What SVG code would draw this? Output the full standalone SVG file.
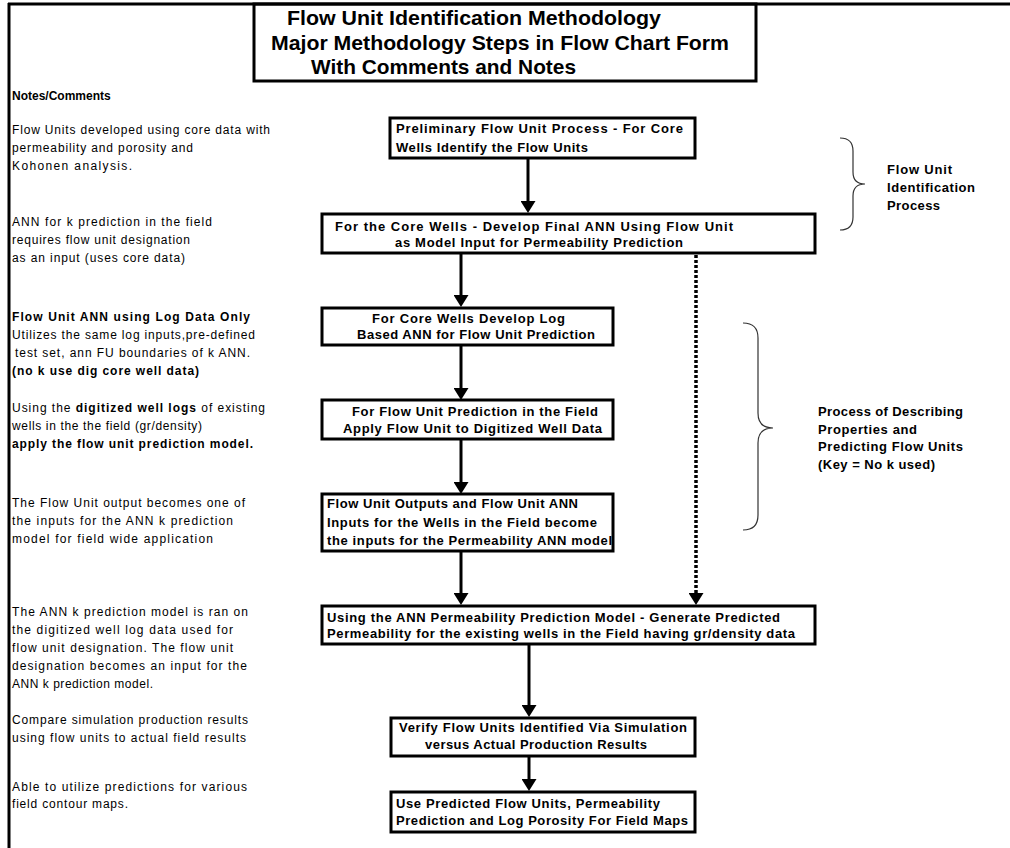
<svg xmlns="http://www.w3.org/2000/svg" width="1010" height="848" viewBox="0 0 1010 848">
<style>
  .frame{fill:none;stroke:#000;stroke-width:3}
  .box{fill:#fff;stroke:#000;stroke-width:3}
  .bt{font-family:"Liberation Sans",Arial,sans-serif;font-size:13px;font-weight:bold;fill:#000}
  .title{font-family:"Liberation Sans",Arial,sans-serif;font-size:21px;font-weight:bold;fill:#000}
  .note{font-family:"Liberation Sans",Arial,sans-serif;font-size:12px;fill:#000}
  .nb{font-weight:bold}
  .side{font-family:"Liberation Sans",Arial,sans-serif;font-size:13px;font-weight:bold;fill:#000}
  .conn{fill:none;stroke:#000;stroke-width:3}
  .dot{fill:none;stroke:#000;stroke-width:3.5;stroke-dasharray:3 2}
  .brace{fill:none;stroke:#333;stroke-width:1.2}
</style>
<defs>
  <marker id="ah" markerUnits="userSpaceOnUse" markerWidth="12" markerHeight="15" refX="2" refY="7.5" orient="auto">
    <path d="M0,0 L12,7.5 L0,15 Z" fill="#000"/>
  </marker>
</defs>

<g id="frame">
  <line class="frame" x1="8" y1="4" x2="1010" y2="4"/>
  <line class="frame" x1="9" y1="3" x2="9" y2="848"/>
</g>

<g id="title">
  <rect class="frame" x="254" y="4" width="502" height="77"/>
  <text class="title" x="287" y="25" textLength="374" lengthAdjust="spacingAndGlyphs">Flow Unit Identification Methodology</text>
  <text class="title" x="271" y="50" textLength="458" lengthAdjust="spacingAndGlyphs">Major Methodology Steps in Flow Chart Form</text>
  <text class="title" x="311" y="74" textLength="265" lengthAdjust="spacingAndGlyphs">With Comments and Notes</text>
</g>

<g id="notes">
  <text class="note nb" x="12" y="100" font-size="11">Notes/Comments</text>
  <text class="note" x="12" y="134" textLength="258" lengthAdjust="spacing">Flow Units developed using core data with</text>
  <text class="note" x="12" y="152" textLength="181" lengthAdjust="spacing">permeability and porosity and</text>
  <text class="note" x="12" y="170" textLength="120" lengthAdjust="spacing">Kohonen analysis.</text>
  <text class="note" x="12" y="226" textLength="200" lengthAdjust="spacing">ANN for k prediction in the field</text>
  <text class="note" x="12" y="244" textLength="178" lengthAdjust="spacing">requires flow unit designation</text>
  <text class="note" x="12" y="262" textLength="173" lengthAdjust="spacing">as an input (uses core data)</text>
  <text class="note nb" x="12" y="321" textLength="238" lengthAdjust="spacing">Flow Unit ANN using Log Data Only</text>
  <text class="note" x="12" y="339" textLength="243" lengthAdjust="spacing">Utilizes the same log inputs,pre-defined</text>
  <text class="note" x="15" y="357" textLength="235" lengthAdjust="spacing">test set, ann FU boundaries of k ANN.</text>
  <text class="note nb" x="12" y="375" textLength="187" lengthAdjust="spacing">(no k use dig core well data)</text>
  <text class="note" x="12" y="412" textLength="253" lengthAdjust="spacing">Using the <tspan class="nb">digitized well logs</tspan> of existing</text>
  <text class="note" x="12" y="430" textLength="190" lengthAdjust="spacing">wells in the the field (gr/density)</text>
  <text class="note nb" x="12" y="448" textLength="241" lengthAdjust="spacing">apply the flow unit prediction model.</text>
  <text class="note" x="12" y="507" textLength="233" lengthAdjust="spacing">The Flow Unit output becomes one of</text>
  <text class="note" x="12" y="525" textLength="221" lengthAdjust="spacing">the inputs for the ANN k prediction</text>
  <text class="note" x="12" y="543" textLength="201" lengthAdjust="spacing">model for field wide application</text>
  <text class="note" x="12" y="616" textLength="236" lengthAdjust="spacing">The ANN k prediction model is ran on</text>
  <text class="note" x="12" y="634" textLength="221" lengthAdjust="spacing">the digitized well log data used for</text>
  <text class="note" x="12" y="652" textLength="221" lengthAdjust="spacing">flow unit designation. The flow unit</text>
  <text class="note" x="12" y="670" textLength="235" lengthAdjust="spacing">designation becomes an input for the</text>
  <text class="note" x="12" y="688" textLength="141" lengthAdjust="spacing">ANN k prediction model.</text>
  <text class="note" x="12" y="724" textLength="236" lengthAdjust="spacing">Compare simulation production results</text>
  <text class="note" x="12" y="742" textLength="234" lengthAdjust="spacing">using flow units to actual field results</text>
  <text class="note" x="12" y="791" textLength="235" lengthAdjust="spacing">Able to utilize predictions for various</text>
  <text class="note" x="12" y="808" textLength="116" lengthAdjust="spacing">field contour maps.</text>
</g>

<g id="connectors">
  <line class="conn" x1="528" y1="158" x2="528" y2="203" marker-end="url(#ah)"/>
  <line class="conn" x1="461" y1="253" x2="461" y2="297" marker-end="url(#ah)"/>
  <line class="conn" x1="461" y1="345" x2="461" y2="390" marker-end="url(#ah)"/>
  <line class="conn" x1="461" y1="439" x2="461" y2="484" marker-end="url(#ah)"/>
  <line class="conn" x1="461" y1="551" x2="461" y2="595" marker-end="url(#ah)"/>
  <line class="dot" x1="696" y1="255" x2="696" y2="595" marker-end="url(#ah)"/>
  <line class="conn" x1="529" y1="644" x2="529" y2="707" marker-end="url(#ah)"/>
  <line class="conn" x1="529" y1="756" x2="529" y2="781" marker-end="url(#ah)"/>
</g>

<g id="step1">
  <rect class="box" x="390" y="118" width="305" height="40"/>
  <text class="bt" x="396" y="133" textLength="287" lengthAdjust="spacing">Preliminary Flow Unit Process - For Core</text>
  <text class="bt" x="396" y="151.5" textLength="192" lengthAdjust="spacing">Wells Identify the Flow Units</text>
</g>
<g id="step2">
  <rect class="box" x="322" y="214" width="493" height="39"/>
  <text class="bt" x="335" y="231" textLength="398" lengthAdjust="spacing">For the Core Wells - Develop Final ANN Using Flow Unit</text>
  <text class="bt" x="395" y="247" textLength="288" lengthAdjust="spacing">as Model Input for Permeability Prediction</text>
</g>
<g id="step3">
  <rect class="box" x="322" y="308" width="291" height="37"/>
  <text class="bt" x="372" y="323" textLength="193" lengthAdjust="spacing">For Core Wells Develop Log</text>
  <text class="bt" x="357" y="339" textLength="238" lengthAdjust="spacing">Based ANN for Flow Unit Prediction</text>
</g>
<g id="step4">
  <rect class="box" x="322" y="400" width="291" height="39"/>
  <text class="bt" x="352" y="416" textLength="246" lengthAdjust="spacing">For Flow Unit Prediction in the Field</text>
  <text class="bt" x="343" y="433" textLength="259" lengthAdjust="spacing">Apply Flow Unit to Digitized Well Data</text>
</g>
<g id="step5">
  <rect class="box" x="322" y="494" width="291" height="57"/>
  <text class="bt" x="327" y="508" textLength="251" lengthAdjust="spacing">Flow Unit Outputs and Flow Unit ANN</text>
  <text class="bt" x="327" y="526.5" textLength="270" lengthAdjust="spacing">Inputs for the Wells in the Field become</text>
  <text class="bt" x="327" y="545" textLength="285" lengthAdjust="spacing">the inputs for the Permeability ANN model</text>
</g>
<g id="step6">
  <rect class="box" x="322" y="606" width="493" height="38"/>
  <text class="bt" x="327" y="622" textLength="453" lengthAdjust="spacing">Using the ANN Permeability Prediction Model - Generate Predicted</text>
  <text class="bt" x="327" y="638" textLength="468" lengthAdjust="spacing">Permeability for the existing wells in the Field having gr/density data</text>
</g>
<g id="step7">
  <rect class="box" x="391" y="718" width="304" height="38"/>
  <text class="bt" x="399" y="732" textLength="288" lengthAdjust="spacing">Verify Flow Units Identified Via Simulation</text>
  <text class="bt" x="425" y="749" textLength="222" lengthAdjust="spacing">versus Actual Production Results</text>
</g>
<g id="step8">
  <rect class="box" x="391" y="792" width="304" height="40"/>
  <text class="bt" x="396" y="807.5" textLength="264" lengthAdjust="spacing">Use Predicted Flow Units, Permeability</text>
  <text class="bt" x="396" y="825" textLength="292" lengthAdjust="spacing">Prediction and Log Porosity For Field Maps</text>
</g>

<g id="brace1">
  <path class="brace" d="M840,138 Q853,138 853,151 L853,172 Q853,184 865,184 Q853,184 853,196 L853,217 Q853,230 840,230"/>
  <text class="side" x="887" y="173.5" textLength="65" lengthAdjust="spacing">Flow Unit</text>
  <text class="side" x="887" y="191.5" textLength="88" lengthAdjust="spacing">Identification</text>
  <text class="side" x="887" y="209.5" textLength="53" lengthAdjust="spacing">Process</text>
</g>
<g id="brace2">
  <path class="brace" d="M743,323 Q758,323 758,338 L758,413 Q758,428 773,428 Q758,428 758,443 L758,515 Q758,530 743,530"/>
  <text class="side" x="818" y="416" textLength="145" lengthAdjust="spacing">Process of Describing</text>
  <text class="side" x="818" y="433.5" textLength="99" lengthAdjust="spacing">Properties and</text>
  <text class="side" x="818" y="451" textLength="145" lengthAdjust="spacing">Predicting Flow Units</text>
  <text class="side" x="818" y="468.5" textLength="117" lengthAdjust="spacing">(Key = No k used)</text>
</g>
</svg>
